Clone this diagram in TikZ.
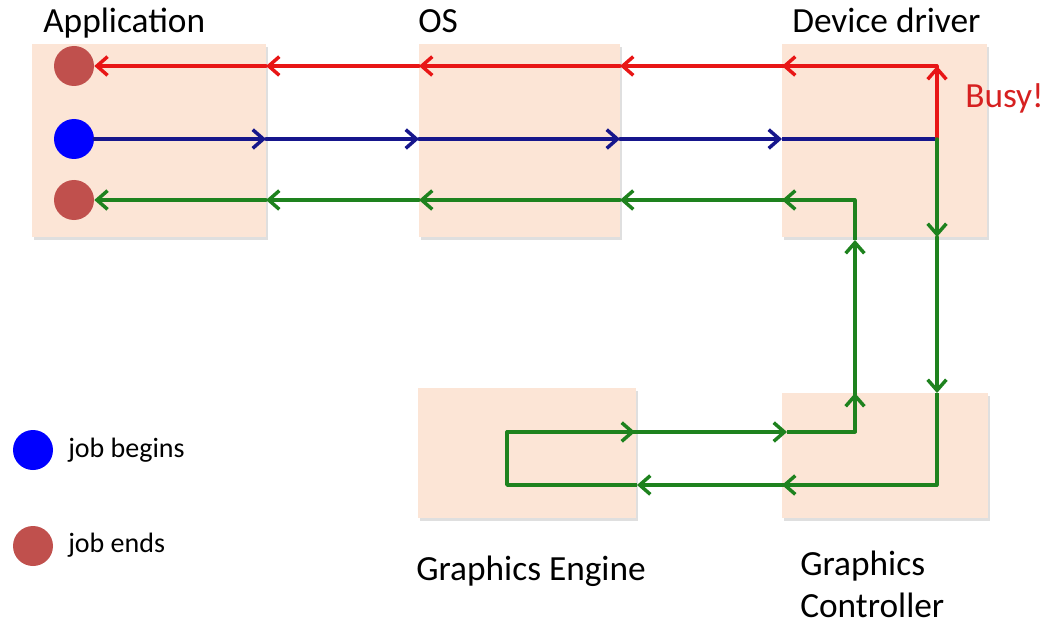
\documentclass[tikz,border=0pt]{standalone}
\usepackage{fontspec}
\setmainfont{Carlito}
\usetikzlibrary{arrows.meta,shadows}
\definecolor{boxfill}{RGB}{252,229,214}
\definecolor{redline}{RGB}{232,22,22}
\definecolor{busyred}{RGB}{214,32,32}
\definecolor{blueline}{RGB}{22,22,140}
\definecolor{greenline}{RGB}{30,130,30}
\definecolor{endcirc}{RGB}{192,80,77}
\definecolor{startcirc}{RGB}{0,0,255}
\tikzset{
  unitbox/.style={draw=none, fill=boxfill, inner sep=0pt, anchor=north west,
    drop shadow={opacity=0.25, shadow xshift=1pt, shadow yshift=-2pt}},
  lbl/.style={font=\fontsize{26.5}{31}\selectfont, anchor=base west, inner sep=0pt},
  legendlbl/.style={font=\fontsize{21}{25}\selectfont, anchor=base west, inner sep=0pt},
  dot/.style={circle, inner sep=0pt, minimum size=30pt},
  flow/.style={line width=2.6pt, line cap=round,
    -{Straight Barb[length=8pt,width=14pt,line width=2.6pt]}},
  plain/.style={line width=2.6pt, line join=round},
}
\begin{document}
\begin{tikzpicture}[x=0.75pt, y=-0.75pt]
\useasboundingbox (0,0) rectangle (1056,624);

% component boxes
\node[unitbox, minimum width=175.5pt, minimum height=144.75pt] (app) at (32,44) {};
\node[unitbox, minimum width=150.75pt, minimum height=144.75pt] (os) at (419,44) {};
\node[unitbox, minimum width=153.75pt, minimum height=144.75pt] (drv) at (782,44) {};
\node[unitbox, minimum width=163.5pt, minimum height=97.5pt] (eng) at (418,388) {};
\node[unitbox, minimum width=154.5pt, minimum height=93.75pt] (ctl) at (782,393) {};

% labels
\node[lbl] (tapp) at (43,33) {Application};
\node[lbl] (tos) at (418,33) {OS};
\node[lbl] (tdrv) at (792,33) {Device driver};
\node[lbl, text=busyred] (tbusy) at (965,108) {Busy!};
\node[lbl] (teng) at (416,580) {Graphics Engine};
\node[lbl, align=left, anchor=north west] (tctl) at (800,551) {Graphics\\Controller};

% start / end markers
\node[dot, fill=endcirc] (e1) at (74,66) {};
\node[dot, fill=startcirc] (s1) at (74,139) {};
\node[dot, fill=endcirc] (e2) at (74,200) {};

% legend
\node[dot, fill=startcirc] (ls) at (33,450) {};
\node[legendlbl] (lst) at (68,457) {job begins};
\node[dot, fill=endcirc] (le) at (33,546) {};
\node[legendlbl] (let) at (68,552) {job ends};

% waypoints of the three rows
\coordinate (bA) at (266,139); \coordinate (bO1) at (419,139);
\coordinate (bO2) at (620,139); \coordinate (bD) at (782,139);
\coordinate (fork) at (937,139);

\coordinate (rTop) at (937,66); \coordinate (rD) at (782,66);
\coordinate (rO2) at (620,66); \coordinate (rO1) at (419,66);
\coordinate (rA) at (266,66);

\coordinate (gD) at (937,237); \coordinate (gC) at (937,393);
\coordinate (gCorner) at (937,485); \coordinate (gCl) at (782,485);
\coordinate (gEr) at (637,485); \coordinate (gLoopB) at (507,485);
\coordinate (gLoopT) at (507,432); \coordinate (gEo) at (635,432);
\coordinate (gCi) at (787,432); \coordinate (gUpB) at (855,432);
\coordinate (gUpC) at (855,393); \coordinate (gUpD) at (855,240);
\coordinate (gUpT) at (855,200); \coordinate (gD2) at (782,200);
\coordinate (gO2) at (620,200); \coordinate (gO1) at (419,200);
\coordinate (gA) at (266,200);

% job request (blue)
\draw[flow, blueline] (s1.east) -- (bA);
\draw[flow, blueline] (bA) -- (bO1);
\draw[flow, blueline] (bO1) -- (bO2);
\draw[flow, blueline] (bO2) -- (bD);
\draw[plain, blueline] (bD) -- (fork);

% busy reply (red)
\draw[flow, redline] (fork) -- (rTop);
\draw[plain, redline] (fork) -- (rTop) -- (rD);
\draw[flow, redline] (rTop) -- (rD);
\draw[flow, redline] (rD) -- (rO2);
\draw[flow, redline] (rO2) -- (rO1);
\draw[flow, redline] (rO1) -- (rA);
\draw[flow, redline] (rA) -- (e1.east);

% accepted job (green)
\draw[flow, greenline] (fork) -- (gD);
\draw[flow, greenline] (gD) -- (gC);
\draw[plain, greenline] (gC) -- (gCorner) -- (gCl);
\draw[flow, greenline] (gCorner) -- (gCl);
\draw[flow, greenline] (gCl) -- (gEr);
\draw[plain, greenline] (gEr) -- (gLoopB) -- (gLoopT) -- (gEo);
\draw[flow, greenline] (gLoopT) -- (gEo);
\draw[flow, greenline] (gEo) -- (gCi);
\draw[plain, greenline] (gCi) -- (gUpB) -- (gUpC);
\draw[flow, greenline] (gUpB) -- (gUpC);
\draw[flow, greenline] (gUpC) -- (gUpD);
\draw[plain, greenline] (gUpD) -- (gUpT) -- (gD2);
\draw[flow, greenline] (gUpT) -- (gD2);
\draw[flow, greenline] (gD2) -- (gO2);
\draw[flow, greenline] (gO2) -- (gO1);
\draw[flow, greenline] (gO1) -- (gA);
\draw[flow, greenline] (gA) -- (e2.east);
\end{tikzpicture}
\end{document}
